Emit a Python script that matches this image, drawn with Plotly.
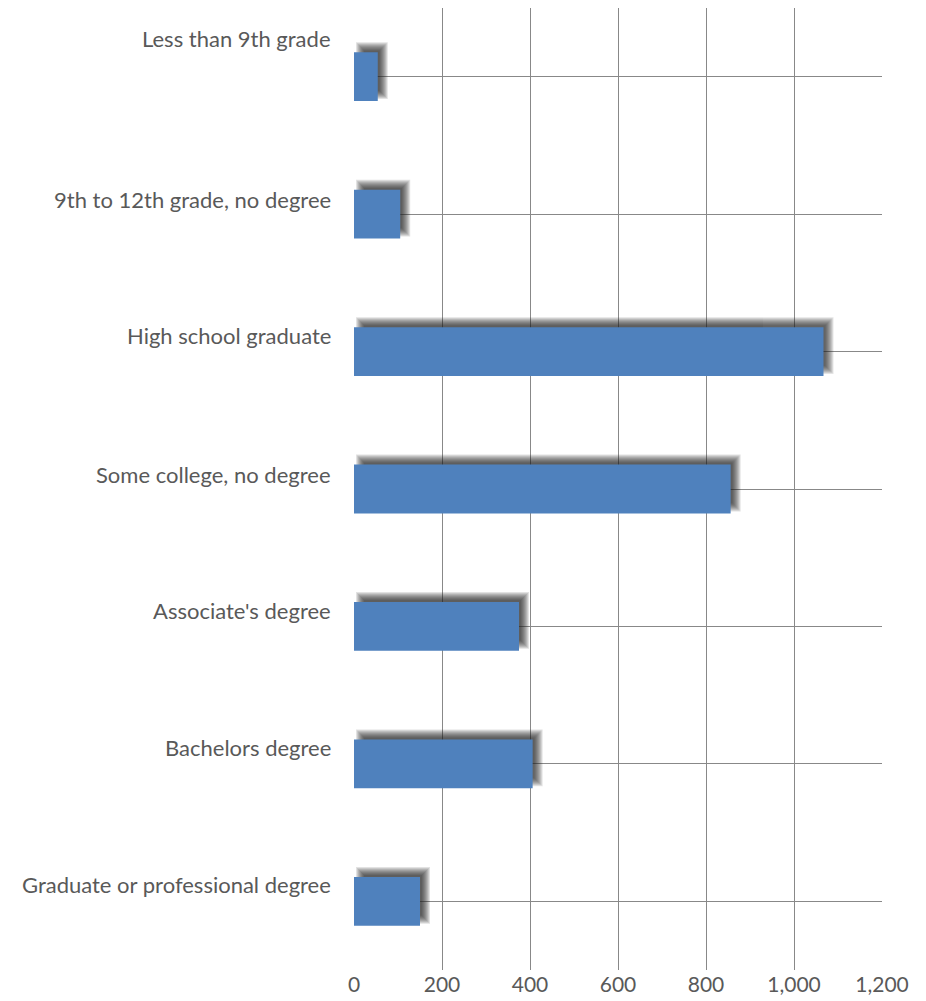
import plotly.graph_objects as go

categories = [
    "Less than 9th grade",
    "9th to 12th grade, no degree",
    "High school graduate",
    "Some college, no degree",
    "Associate's degree",
    "Bachelors degree",
    "Graduate or professional degree",
]
values = [54, 105, 1067, 856, 375, 406, 150]
tick_vals = [0, 200, 400, 600, 800, 1000, 1200]
tick_text = ["0", "200", "400", "600", "800", "1,000", "1,200"]
label_yshift = [38, 15, 16, 15, 16, 16, 17]

# page body has an 8px margin; figure sized to fit the 926x1001 window
W, H = 918, 993
ML, MR, MT, MB = 346, 44, 0, 31
XMAX = 1200
ux = XMAX / (W - ML - MR)             # data units per px (x)
uy = len(categories) / (H - MT - MB)  # category units per px (y)
BAR_W = 0.355
FONT = "Lato"
TXT = "#595959"
GRID = "#888888"

fig = go.Figure()

# soft shadow (offset up-right, blurred by stacked translucent layers)
sx, sy = 6, 6
for e in [-4, -3, -2, -1, 0, 1, 2, 3, 4]:
    w = BAR_W + 2 * e * uy
    fig.add_trace(go.Bar(
        y=categories,
        x=[v + 2 * e * ux for v in values],
        base=[(sx - e) * ux] * len(values),
        orientation="h",
        width=w,
        offset=-w / 2 - sy * uy,
        marker=dict(color="rgb(30,30,30)", line=dict(width=0)),
        opacity=0.12,
        hoverinfo="skip",
        showlegend=False,
    ))

fig.add_trace(go.Bar(
    y=categories,
    x=values,
    orientation="h",
    width=BAR_W,
    marker=dict(color="#4F81BD", line=dict(width=0)),
    showlegend=False,
))

for c, s in zip(categories, label_yshift):
    fig.add_annotation(
        x=0, xref="paper", y=c, yref="y",
        text=c, showarrow=False, xanchor="right", yanchor="middle",
        xshift=-21, yshift=s,
        font=dict(family=FONT, size=22, color=TXT),
    )

fig.update_layout(
    width=W, height=H,
    margin=dict(l=ML, r=MR, t=MT, b=MB, pad=0),
    barmode="overlay",
    plot_bgcolor="white", paper_bgcolor="white",
    xaxis=dict(
        range=[0, XMAX], tickvals=tick_vals, ticktext=tick_text,
        showgrid=True, gridcolor=GRID, gridwidth=1,
        zeroline=False, showline=False,
        tickfont=dict(family=FONT, size=21, color=TXT),
        fixedrange=True,
    ),
    yaxis=dict(
        categoryorder="array", categoryarray=categories,
        autorange="reversed",
        showgrid=True, gridcolor=GRID, gridwidth=1,
        showticklabels=False, zeroline=False, showline=False,
        fixedrange=True,
    ),
)

fig.write_html("out.html")
